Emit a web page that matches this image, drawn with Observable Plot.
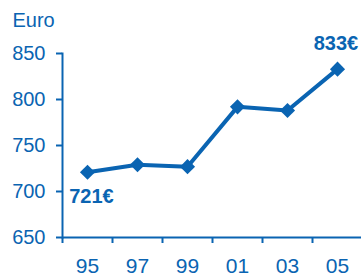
<!DOCTYPE html>
<html>
<head>
<meta charset="utf-8">
<script src="https://cdn.jsdelivr.net/npm/d3@7"></script>
<script src="https://cdn.jsdelivr.net/npm/@observablehq/plot@0.6"></script>
<style>
  html, body { margin: 0; padding: 0; background: #fff; }
</style>
</head>
<body>
<div id="chart"></div>
<script>
const years = [1995, 1997, 1999, 2001, 2003, 2005];
const values = [721, 729, 727, 792, 788, 833];
const xTickLabels = ["95", "97", "99", "01", "03", "05"];
const yTicks = [650, 700, 750, 800, 850];
const boundaryTicks = [1994, 1996, 1998, 2000, 2002, 2004, 2006];
const unitLabel = "Euro";
const firstLabel = "721€";
const lastLabel = "833€";

const blue = "#0a64b2";
const data = years.map((y, i) => ({year: y, value: values[i]}));
const font = "Liberation Sans, Arial, sans-serif";

const chart = Plot.plot({
  width: 361,
  height: 276,
  marginLeft: 62,
  marginRight: -1,
  marginTop: 53,
  marginBottom: 39,
  style: {fontFamily: font, background: "#fff", color: blue},
  x: {type: "linear", domain: [1994, 2006]},
  y: {domain: [650, 850]},
  marks: [
    Plot.axisY({ticks: yTicks, tickSize: 6, tickPadding: 11, fontSize: 20, stroke: blue, fill: blue, strokeWidth: 2, label: null}),
    Plot.axisX({ticks: years, tickSize: 0, tickPadding: 21, fontSize: 21, fill: blue, label: null,
      tickFormat: d => xTickLabels[years.indexOf(d)]}),
    Plot.axisX({ticks: boundaryTicks, tickSize: 6, text: null, stroke: blue, strokeWidth: 2, label: null}),
    Plot.ruleY([650], {stroke: blue, strokeWidth: 2}),
    Plot.frame({anchor: "left", stroke: blue, strokeWidth: 2}),
    Plot.line(data, {x: "year", y: "value", stroke: blue, strokeWidth: 4}),
    Plot.dot(data, {x: "year", y: "value", symbol: "diamond2", r: 6.8, fill: blue, stroke: "none"}),
    Plot.text([data[0]], {x: "year", y: "value", text: () => firstLabel, dx: 4, dy: 24, fontSize: 20, fontWeight: "bold", fill: blue}),
    Plot.text([data[data.length - 1]], {x: "year", y: "value", text: () => lastLabel, dx: -1.5, dy: -26, fontSize: 20, fontWeight: "bold", fill: blue}),
    Plot.text([unitLabel], {frameAnchor: "top-left", text: d => d, dx: -50, dy: -41, fontSize: 20, fill: blue, textAnchor: "start", lineAnchor: "top"})
  ]
});
document.getElementById("chart").appendChild(chart);
</script>
</body>
</html>
